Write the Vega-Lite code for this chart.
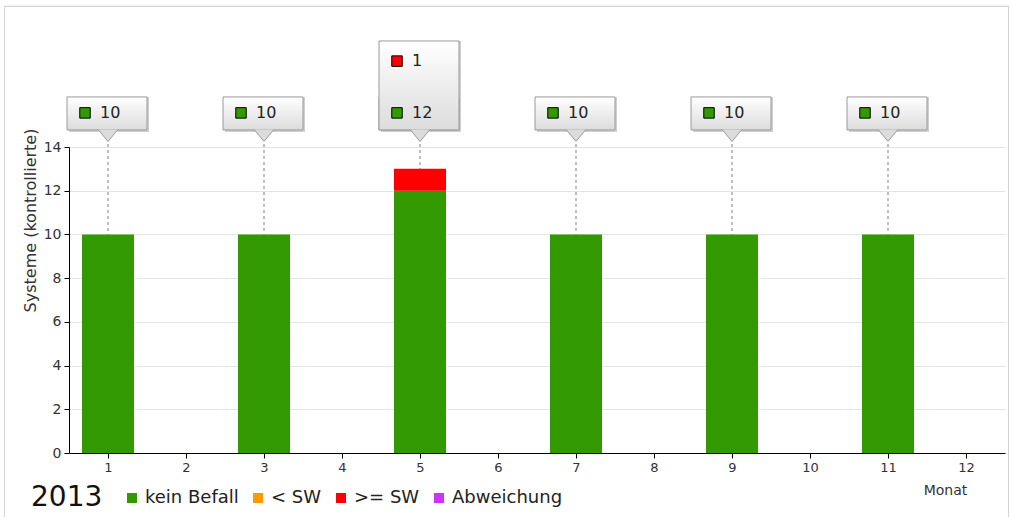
{
  "$schema": "https://vega.github.io/schema/vega-lite/v6.json",
  "width": 936,
  "height": 306,
  "autosize": "none",
  "padding": {"left": 69, "top": 147, "right": 8, "bottom": 64},
  "background": "white",
  "config": {
    "font": "DejaVu Sans",
    "view": {"stroke": null},
    "axis": {"labelFont": "DejaVu Sans", "titleFont": "DejaVu Sans"}
  },
  "data": {
    "values": [
      {"month": 1, "series": "kein Befall", "value": 10},
      {"month": 3, "series": "kein Befall", "value": 10},
      {"month": 5, "series": "kein Befall", "value": 12},
      {"month": 5, "series": ">= SW", "value": 1},
      {"month": 7, "series": "kein Befall", "value": 10},
      {"month": 9, "series": "kein Befall", "value": 10},
      {"month": 11, "series": "kein Befall", "value": 10}
    ]
  },
  "layer": [
    {
      "mark": {"type": "rect", "fill": null, "stroke": "#d4d4d4", "strokeWidth": 1},
      "encoding": {
        "x": {"datum": -0.327, "type": "quantitative", "scale": {"domain": [0.5, 12.5], "nice": false, "zero": false, "padding": 0}},
        "x2": {"datum": 12.545},
        "y": {"datum": -4, "type": "quantitative", "scale": {"domain": [0, 14], "nice": false}},
        "y2": {"datum": 20.43}
      }
    },
    {
      "transform": [{"filter": "datum.series === 'kein Befall'"}],
      "mark": {"type": "rule", "color": "#aaaaaa", "strokeWidth": 1.5, "strokeDash": [3, 3]},
      "encoding": {
        "x": {"field": "month", "type": "quantitative", "scale": {"domain": [0.5, 12.5], "nice": false, "zero": false, "padding": 0}},
        "y": {"datum": 0, "type": "quantitative", "scale": {"domain": [0, 14], "nice": false}},
        "y2": {"datum": 14.27}
      }
    },
    {
      "mark": {"type": "bar", "width": 52},
      "encoding": {
        "x": {
          "field": "month", "type": "quantitative",
          "scale": {"domain": [0.5, 12.5], "nice": false, "zero": false, "padding": 0},
          "axis": {
            "values": [1, 2, 3, 4, 5, 6, 7, 8, 9, 10, 11, 12],
            "format": "d",
            "grid": false,
            "domainColor": "#000000",
            "tickColor": "#000000",
            "tickSize": 5,
            "labelFontSize": 13,
            "labelColor": "#333333",
            "labelPadding": 3,
            "title": "Monat",
            "titleFontSize": 14,
            "titleFontWeight": "normal",
            "titleColor": "#333333",
            "titleX": 876,
            "titleY": 41,
            "titleAlign": "center",
            "titleBaseline": "alphabetic"
          }
        },
        "y": {
          "field": "value", "type": "quantitative", "stack": "zero",
          "scale": {"domain": [0, 14], "nice": false},
          "axis": {
            "values": [0, 2, 4, 6, 8, 10, 12, 14],
            "grid": true,
            "gridColor": "#e4e4e4",
            "domainColor": "#000000",
            "tickColor": "#000000",
            "tickSize": 5,
            "labelFontSize": 14,
            "labelColor": "#333333",
            "labelPadding": 3,
            "title": "Systeme (kontrollierte)",
            "titleFontSize": 16,
            "titleFontWeight": "normal",
            "titleColor": "#333333",
            "titleX": -39,
            "titleY": 73,
            "titleAlign": "center",
            "titleBaseline": "middle",
            "titleAngle": -90
          }
        },
        "color": {
          "field": "series", "type": "nominal",
          "scale": {
            "domain": ["kein Befall", "< SW", ">= SW", "Abweichung"],
            "range": ["#339900", "#ff9900", "#ff0000", "#cc33ff"]
          },
          "legend": {
            "orient": "none",
            "legendX": -38,
            "legendY": 342,
            "direction": "horizontal",
            "title": "2013",
            "titleOrient": "left",
            "titleFontSize": 28,
            "titleFontWeight": "normal",
            "titleColor": "#111111",
            "titlePadding": 20,
            "titleBaseline": "middle",
            "symbolType": "square",
            "symbolSize": 100,
            "symbolStrokeWidth": 0,
            "labelFontSize": 18,
            "labelColor": "#222222",
            "labelOffset": 4,
            "columnPadding": 10
          }
        },
        "order": {"field": "series", "sort": "descending"}
      }
    },
    {
      "transform": [{"filter": "datum.series === 'kein Befall'"}],
      "mark": {"type": "rect", "width": 80, "color": "#cfcfcf", "xOffset": 1, "yOffset": 2},
      "encoding": {
        "x": {"field": "month", "type": "quantitative", "scale": {"domain": [0.5, 12.5], "nice": false, "zero": false, "padding": 0}},
        "y": {"datum": 14.78, "type": "quantitative", "scale": {"domain": [0, 14], "nice": false}},
        "y2": {"datum": 16.29}
      }
    },
    {
      "transform": [{"filter": "datum.series === '>= SW'"}],
      "mark": {"type": "rect", "width": 80, "color": "#cfcfcf", "xOffset": 1, "yOffset": 2},
      "encoding": {
        "x": {"field": "month", "type": "quantitative", "scale": {"domain": [0.5, 12.5], "nice": false, "zero": false, "padding": 0}},
        "y": {"datum": 14.78, "type": "quantitative", "scale": {"domain": [0, 14], "nice": false}},
        "y2": {"datum": 18.85}
      }
    },
    {
      "transform": [{"filter": "datum.series === 'kein Befall'"}],
      "mark": {
        "type": "rect", "width": 80, "xOffset": -1, "stroke": "#9a9a9a", "strokeWidth": 1,
        "fill": {"gradient": "linear", "x1": 0, "y1": 0, "x2": 0, "y2": 1, "stops": [{"offset": 0, "color": "#ffffff"}, {"offset": 1, "color": "#dcdcdc"}]}
      },
      "encoding": {
        "x": {"field": "month", "type": "quantitative", "scale": {"domain": [0.5, 12.5], "nice": false, "zero": false, "padding": 0}},
        "y": {"datum": 14.78, "type": "quantitative", "scale": {"domain": [0, 14], "nice": false}},
        "y2": {"datum": 16.29}
      }
    },
    {
      "transform": [{"filter": "datum.series === '>= SW'"}],
      "mark": {
        "type": "rect", "width": 80, "xOffset": -1, "stroke": "#9a9a9a", "strokeWidth": 1,
        "fill": {"gradient": "linear", "x1": 0, "y1": 0, "x2": 0, "y2": 1, "stops": [{"offset": 0, "color": "#ffffff"}, {"offset": 1, "color": "#dcdcdc"}]}
      },
      "encoding": {
        "x": {"field": "month", "type": "quantitative", "scale": {"domain": [0.5, 12.5], "nice": false, "zero": false, "padding": 0}},
        "y": {"datum": 14.78, "type": "quantitative", "scale": {"domain": [0, 14], "nice": false}},
        "y2": {"datum": 18.85}
      }
    },
    {
      "transform": [{"filter": "datum.series === 'kein Befall'"}],
      "mark": {"type": "point", "shape": "M-1,-0.6L0,0.6L1,-0.6", "size": 400, "filled": true, "fill": "#dcdcdc", "stroke": "#9a9a9a", "strokeWidth": 1, "opacity": 1},
      "encoding": {
        "x": {"field": "month", "type": "quantitative", "scale": {"domain": [0.5, 12.5], "nice": false, "zero": false, "padding": 0}},
        "y": {"datum": 14.53, "type": "quantitative", "scale": {"domain": [0, 14], "nice": false}}
      }
    },
    {
      "transform": [{"filter": "datum.series === 'kein Befall'"}],
      "mark": {"type": "point", "shape": "square", "size": 110, "filled": true, "stroke": "#000000", "strokeWidth": 1, "opacity": 1, "xOffset": -23},
      "encoding": {
        "x": {"field": "month", "type": "quantitative", "scale": {"domain": [0.5, 12.5], "nice": false, "zero": false, "padding": 0}},
        "y": {"datum": 15.56, "type": "quantitative", "scale": {"domain": [0, 14], "nice": false}},
        "fill": {"field": "series", "type": "nominal", "legend": null, "scale": {"domain": ["kein Befall", "< SW", ">= SW", "Abweichung"], "range": ["#339900", "#ff9900", "#ff0000", "#cc33ff"]}}
      }
    },
    {
      "transform": [{"filter": "datum.series === '>= SW'"}],
      "mark": {"type": "point", "shape": "square", "size": 110, "filled": true, "stroke": "#000000", "strokeWidth": 1, "opacity": 1, "xOffset": -23},
      "encoding": {
        "x": {"field": "month", "type": "quantitative", "scale": {"domain": [0.5, 12.5], "nice": false, "zero": false, "padding": 0}},
        "y": {"datum": 17.93, "type": "quantitative", "scale": {"domain": [0, 14], "nice": false}},
        "fill": {"field": "series", "type": "nominal", "legend": null, "scale": {"domain": ["kein Befall", "< SW", ">= SW", "Abweichung"], "range": ["#339900", "#ff9900", "#ff0000", "#cc33ff"]}}
      }
    },
    {
      "transform": [{"filter": "datum.series === 'kein Befall'"}],
      "mark": {"type": "text", "align": "left", "baseline": "middle", "fontSize": 16, "color": "#222222", "xOffset": -8},
      "encoding": {
        "x": {"field": "month", "type": "quantitative", "scale": {"domain": [0.5, 12.5], "nice": false, "zero": false, "padding": 0}},
        "y": {"datum": 15.56, "type": "quantitative", "scale": {"domain": [0, 14], "nice": false}},
        "text": {"field": "value", "type": "quantitative"}
      }
    },
    {
      "transform": [{"filter": "datum.series === '>= SW'"}],
      "mark": {"type": "text", "align": "left", "baseline": "middle", "fontSize": 16, "color": "#222222", "xOffset": -8},
      "encoding": {
        "x": {"field": "month", "type": "quantitative", "scale": {"domain": [0.5, 12.5], "nice": false, "zero": false, "padding": 0}},
        "y": {"datum": 17.93, "type": "quantitative", "scale": {"domain": [0, 14], "nice": false}},
        "text": {"field": "value", "type": "quantitative"}
      }
    }
  ]
}
